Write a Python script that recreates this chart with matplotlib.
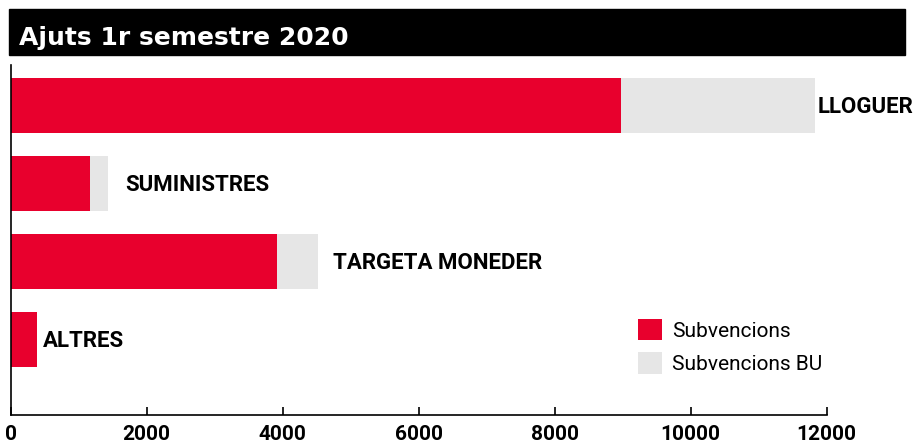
import numpy as np
import matplotlib.pyplot as plt
from matplotlib.patches import Rectangle

# dades
categories = ["LLOGUER", "SUMINISTRES", "TARGETA MONEDER", "ALTRES"]
subvencions = [8980, 1170, 3920, 390]
subvencions_bu = [2850, 265, 600, 0]
xticks = [0, 2000, 4000, 6000, 8000, 10000, 12000]

vermell = "#E8002D"
gris = "#E6E6E6"

plt.rcParams['font.family'] = ['Roboto', 'DejaVu Sans']

W, H = 915, 443
fig = plt.figure(figsize=(W / 100, H / 100), dpi=100)

# barra del titol
fig.patches.append(Rectangle((9 / W, 1 - 55 / H), 896 / W, 45.5 / H,
                             transform=fig.transFigure, color="black", zorder=0))
fig.text(19 / W, 1 - 45 / H, "Ajuts 1r semestre 2020", color="white",
         fontsize=18, family="DejaVu Sans", fontweight="bold",
         va="baseline", ha="left")

ax = fig.add_axes([10.7 / W, 1 - 415 / H, (826.5 - 10.7) / W, (415 - 65) / H])

y = np.arange(len(categories))
h = 55 / 78
ax.barh(y, subvencions, height=h, color=vermell, label="Subvencions", zorder=2)
ax.barh(y, subvencions_bu, left=subvencions, height=h, color=gris,
        label="Subvencions BU", zorder=1)

ax.set_xlim(0, 12000)
ax.set_ylim(3 + 75.5 / 78, -40.5 / 78)

# etiquetes de categoria
pads = [3, 17, 15, 6]
totals = np.array(subvencions) + np.array(subvencions_bu)
for i, (cat, tot) in enumerate(zip(categories, totals)):
    ax.annotate(cat, xy=(tot, i), xytext=(pads[i] * 0.72, -7.5 * 0.72),
                textcoords="offset points", fontsize=16, fontweight="bold",
                va="baseline", ha="left", annotation_clip=False)

ax.set_xticks(xticks)
ax.set_xticklabels([str(t) for t in xticks], fontsize=15, fontweight="bold")
ax.set_yticks([])
ax.tick_params(axis="x", direction="in", length=8 * 0.72, width=1.2, pad=7)
for s in ["top", "right"]:
    ax.spines[s].set_visible(False)
ax.spines["left"].set_linewidth(1.2)
ax.spines["bottom"].set_linewidth(1.2)

ax.legend(loc="upper left", bbox_to_anchor=(638 / W, 1 - 319 / H),
          bbox_transform=fig.transFigure, frameon=False, fontsize=15,
          handlelength=1.15, handleheight=1.2, handletextpad=0.48,
          labelspacing=0.55, borderpad=0, borderaxespad=0)

fig.savefig("out.png", dpi=100)
